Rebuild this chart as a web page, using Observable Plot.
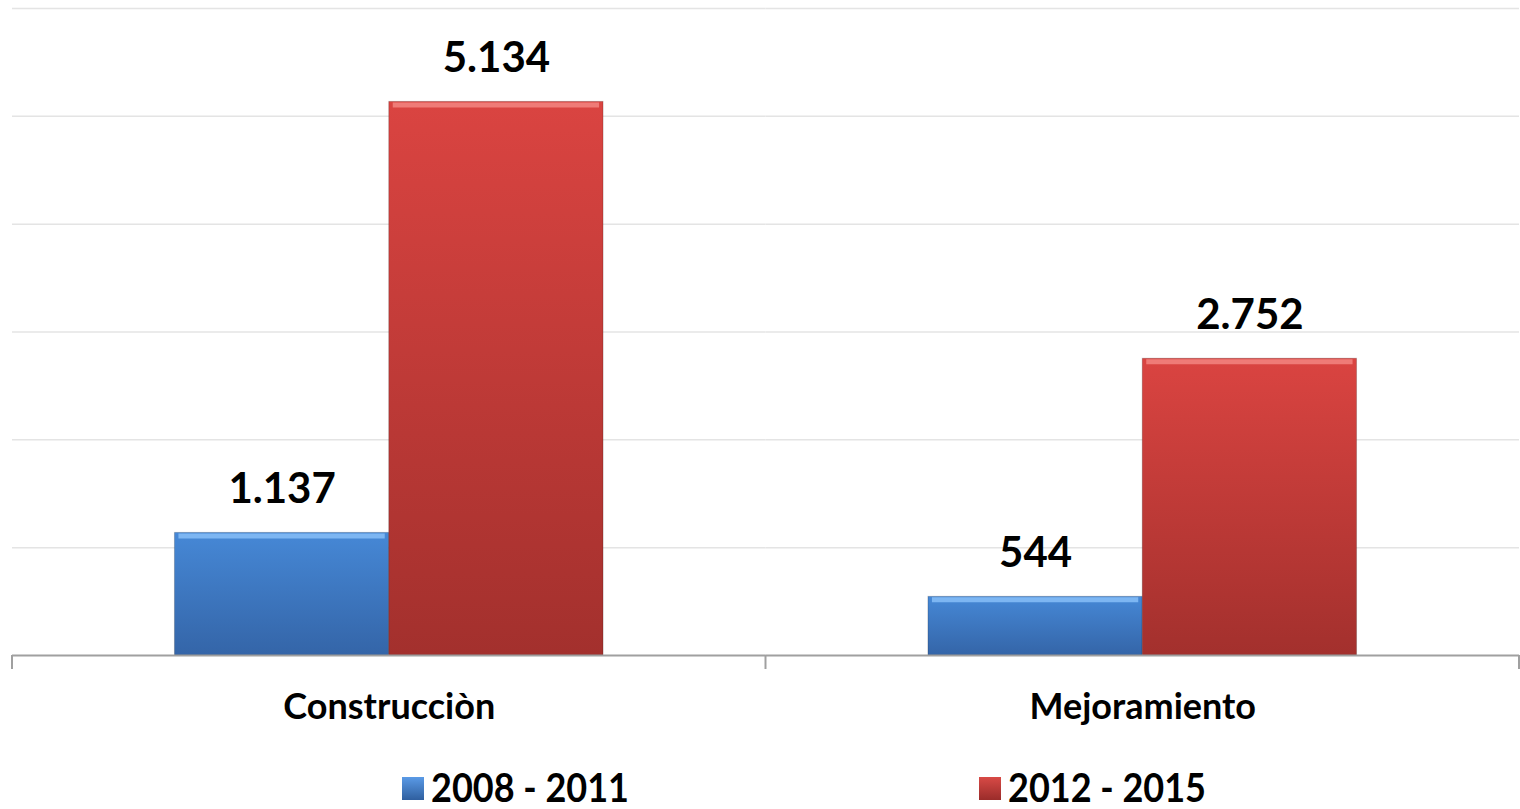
<!DOCTYPE html>
<html>
<head>
<meta charset="utf-8">
<script src="https://cdn.jsdelivr.net/npm/d3@7"></script>
<script src="https://cdn.jsdelivr.net/npm/@observablehq/plot@0.6"></script>
<style>
  html, body { margin: 0; padding: 0; background: #fff; }
  #chart svg { display: block; font-family: Lato, "Open Sans", sans-serif; }
  #legend { position: relative; height: 69px; width: 1520px;
    font-family: Lato, "Open Sans", sans-serif; font-weight: bold; font-size: 40px; line-height: 44px; color: #000; }
  .item { position: absolute; top: 0; height: 69px; display: flex; align-items: center; }
  .sw { width: 22px; height: 23px; display: inline-block; margin-top: 28px; }
  .txt { display: inline-block; transform: scaleX(0.9); transform-origin: left center; margin-left: 7px; margin-top: 24px; white-space: nowrap; }
</style>
</head>
<body>
<div id="chart"></div>
<div id="legend"></div>
<script>
const categories = ["Construcciòn", "Mejoramiento"];
const series = ["2008 - 2011", "2012 - 2015"];
const values2008 = [1137, 544];
const values2012 = [5134, 2752];
const gridTicks = [1000, 2000, 3000, 4000, 5000, 6000];

const data = [];
categories.forEach((c, i) => {
  data.push({cat: c, series: series[0], value: values2008[i]});
  data.push({cat: c, series: series[1], value: values2012[i]});
});

const fmt = d3.formatLocale({decimal: ",", thousands: ".", grouping: [3], currency: ["", ""]}).format(",d");

const plot = Plot.plot({
  width: 1520,
  height: 740,
  marginLeft: 12,
  marginRight: 1,
  marginTop: 8,
  marginBottom: 85,
  fx: {domain: categories, padding: 0, round: false, axis: null},
  x: {domain: series, paddingInner: 0, paddingOuter: 0.758, round: false, axis: null},
  y: {domain: [0, 6000], axis: null},
  color: {domain: series, range: ["url(#gBlue)", "url(#gRed)"]},
  marks: [
    Plot.ruleY(gridTicks, {stroke: "#e4e4e4", strokeWidth: 1.5}),
    Plot.barY(data, {fx: "cat", x: "series", y: "value", fill: "series", stroke: "#00000030", strokeWidth: 1}),
    Plot.tickY(data.filter(d => d.series === series[0]), {fx: "cat", x: "series", y: "value", stroke: "#7db6f2", strokeWidth: 5, dy: 3, inset: 4}),
    Plot.tickY(data.filter(d => d.series === series[1]), {fx: "cat", x: "series", y: "value", stroke: "#ef7b77", strokeWidth: 5, dy: 3, inset: 4}),
    Plot.ruleY([0], {stroke: "#a0a0a0", strokeWidth: 2}),
    Plot.text(data, {fx: "cat", x: "series", y: "value", text: d => fmt(d.value), dy: -43, lineAnchor: "middle", fontSize: 42, fontWeight: "bold", fill: "#000"}),
    Plot.axisFx({anchor: "bottom", tickSize: 0, tickPadding: 38, fontSize: 36, fontWeight: "bold", label: null, color: "#000"})
  ]
});

// gradients for the bevelled bar look
const svg = d3.select(plot);
const defs = svg.insert("defs", ":first-child");
function grad(id, stops) {
  const g = defs.append("linearGradient").attr("id", id).attr("x1", 0).attr("y1", 0).attr("x2", 0).attr("y2", 1);
  stops.forEach(([o, c]) => g.append("stop").attr("offset", o).attr("stop-color", c));
}
grad("gBlue", [[0, "#4688d6"], [1, "#3465a8"]]);
grad("gRed", [[0, "#da4441"], [1, "#a3302d"]]);

// category boundary ticks using the fx and y scales
const fx = plot.scale("fx");
const y = plot.scale("y");
const y0 = y.apply(0);
const bounds = categories.map(c => fx.apply(c)).concat([fx.apply(categories[categories.length - 1]) + fx.bandwidth]);
const g = svg.append("g");
bounds.forEach(bx => {
  g.append("line").attr("x1", bx).attr("x2", bx).attr("y1", y0).attr("y2", y0 + 14)
    .attr("stroke", "#a0a0a0").attr("stroke-width", 2);
});

document.getElementById("chart").appendChild(plot);

const legendColors = ["linear-gradient(#5a9ae6, #2f5f9f)", "linear-gradient(#d84a46, #9a2c2a)"];
const legendLeft = [402, 979];
const legend = document.getElementById("legend");
series.forEach((s, i) => {
  const item = document.createElement("div");
  item.className = "item";
  item.style.left = legendLeft[i] + "px";
  const sw = document.createElement("span");
  sw.className = "sw";
  sw.style.background = legendColors[i];
  const t = document.createElement("span");
  t.className = "txt";
  t.textContent = s;
  item.appendChild(sw);
  item.appendChild(t);
  legend.appendChild(item);
});
</script>
</body>
</html>
